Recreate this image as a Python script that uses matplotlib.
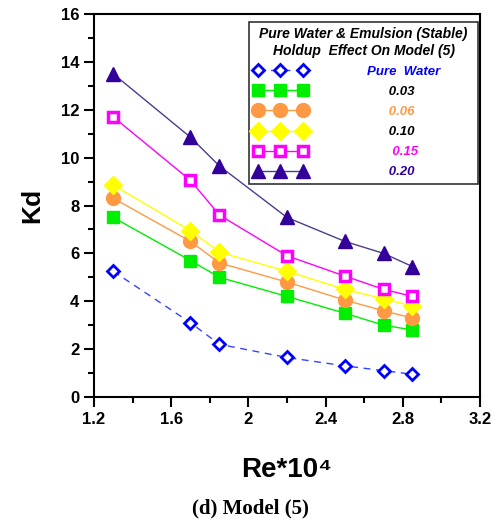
import matplotlib
matplotlib.use("Agg")
import matplotlib.pyplot as plt
from matplotlib.ticker import MultipleLocator

re_x = [1.3, 1.7, 1.85, 2.2, 2.5, 2.7, 2.85]
pure_water = [5.25, 3.1, 2.2, 1.65, 1.3, 1.1, 0.95]
h003 = [7.5, 5.7, 5.0, 4.2, 3.5, 3.0, 2.8]
h006 = [8.3, 6.5, 5.6, 4.8, 4.05, 3.6, 3.3]
h010 = [8.85, 6.95, 6.05, 5.25, 4.5, 4.1, 3.8]
h015 = [11.7, 9.05, 7.6, 5.9, 5.05, 4.5, 4.2]
h020 = [13.5, 10.85, 9.65, 7.5, 6.5, 6.0, 5.45]
labels = ["Pure  Water         ", "      0.03", "      0.06", "      0.10",
          "       0.15", "      0.20"]

plt.rcParams['font.family'] = ['Liberation Sans', 'DejaVu Sans']
fig = plt.figure(figsize=(5.0, 5.27), dpi=100)
ax = fig.add_axes([0.188, 0.2467, 0.772, 0.7267])

ax.plot(re_x, pure_water, color='#3344ff', ls=(0, (5, 4)), lw=1,
        marker='D', ms=6.5, mfc='white', mec='#0000ff', mew=2, label=labels[0])
ax.plot(re_x, h003, color='#00ee00', lw=1, marker='s', ms=9,
        mfc='#00ee00', mec='#00ee00', label=labels[1])
ax.plot(re_x, h006, color='#ff9944', lw=1, marker='o', ms=10,
        mfc='#ff9944', mec='#ff9944', label=labels[2])
ax.plot(re_x, h010, color='#ffff00', lw=1, marker='D', ms=9,
        mfc='#ffff00', mec='#ffff00', label=labels[3])
ax.plot(re_x, h015, color='#ff00ff', lw=1, marker='s', ms=7,
        mfc='white', mec='#ff00ff', mew=2.5, label=labels[4])
ax.plot(re_x, h020, color='#4a3d8f', lw=1, marker='^', ms=10,
        mfc='#330099', mec='#330099', label=labels[5])

ax.set_xlim(1.2, 3.2)
ax.set_ylim(0, 16)
ax.xaxis.set_minor_locator(MultipleLocator(0.2))
ax.yaxis.set_major_locator(MultipleLocator(2))
ax.yaxis.set_minor_locator(MultipleLocator(1))
ax.set_xticks([1.2, 1.6, 2.0, 2.4, 2.8, 3.2])
ax.set_xticklabels(["1.2", "1.6", "2", "2.4", "2.8", "3.2"])
ax.tick_params(which='major', direction='out', length=7, width=1.5,
               labelsize=12)
ax.tick_params(which='minor', direction='out', length=4, width=1.5)
for lab in ax.get_xticklabels() + ax.get_yticklabels():
    lab.set_fontweight('bold')
for s in ax.spines.values():
    s.set_linewidth(1.5)

ax.set_ylabel("Kd", fontsize=19, fontweight='bold', labelpad=12)
ax.set_xlabel("Re*10\u2074", fontsize=20, fontweight='bold', labelpad=22)

leg = ax.legend(loc='upper right', bbox_to_anchor=(0.996, 0.979),
                numpoints=3, handlelength=4.0, handletextpad=4.6,
                frameon=True, fancybox=False, edgecolor='black',
                title="Pure Water & Emulsion (Stable)\nHoldup  Effect On Model (5)",
                prop={'size': 9.5, 'style': 'italic', 'weight': 'bold'},
                labelspacing=0.6, borderpad=0.4, borderaxespad=0.0)
leg.get_frame().set_linewidth(1.2)
leg.get_title().set_fontsize(10)
leg.get_title().set_fontstyle('italic')
leg.get_title().set_fontweight('bold')
leg.get_title().set_multialignment('center')
text_colors = ['#0000ff', 'black', '#ff9944', 'black', '#ff00ff', '#330099']
for t, c in zip(leg.get_texts(), text_colors):
    t.set_color(c)

fig.text(0.5, 0.035, "(d) Model (5)", ha='center', va='center',
         fontsize=15, fontweight='bold', family=['Liberation Serif', 'DejaVu Serif'])

fig.savefig("out.png", dpi=100)
